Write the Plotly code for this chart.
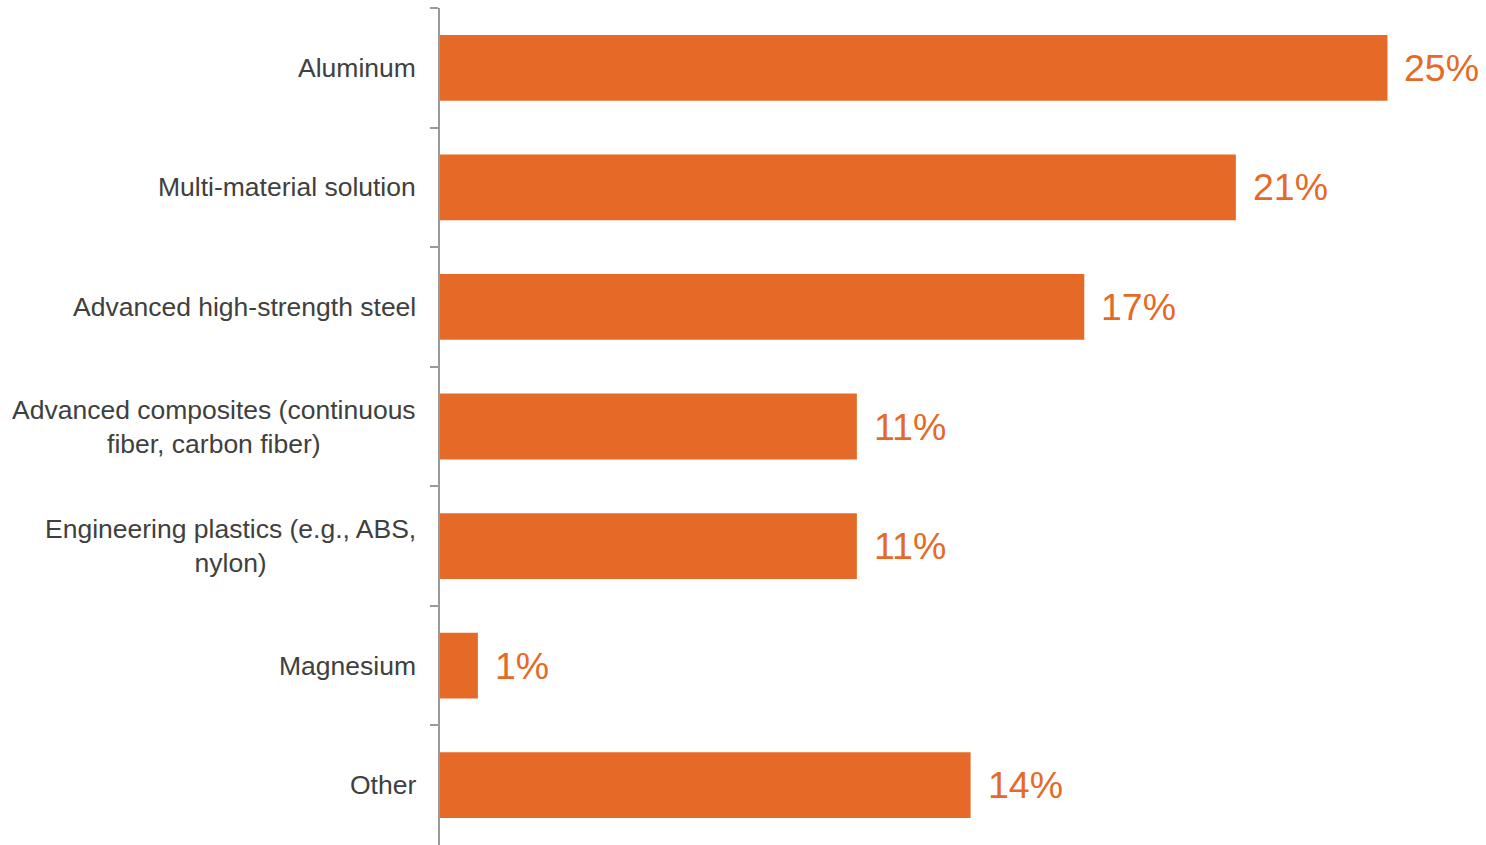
import plotly.graph_objects as go

materials = [
    "Aluminum",
    "Multi-material solution",
    "Advanced high-strength steel",
    "Advanced composites (continuous<br>fiber, carbon fiber)",
    "Engineering plastics (e.g., ABS,<br>nylon)",
    "Magnesium",
    "Other",
]
shares = [25, 21, 17, 11, 11, 1, 14]
share_labels = ["25%", "21%", "17%", "11%", "11%", "1%", "14%"]

bar_color = "#E66A27"
text_color = "#404040"
axis_color = "#9A9A9A"
font_family = "Liberation Sans, Arial, sans-serif"

fig = go.Figure(
    go.Bar(
        x=shares,
        y=materials,
        orientation="h",
        marker=dict(color=bar_color, line=dict(width=0)),
        hoverinfo="skip",
    )
)

# value labels to the right of each bar
for name, val, lab in zip(materials, shares, share_labels):
    fig.add_annotation(
        x=val, y=name, text=lab, showarrow=False,
        xanchor="left", yanchor="middle", xshift=15,
        font=dict(family=font_family, size=37.5, color=bar_color),
    )

# category labels, centred line-by-line, right-aligned against the axis
for name in materials:
    fig.add_annotation(
        xref="paper", x=0, y=name, text=name, showarrow=False,
        xanchor="right", yanchor="middle", align="center", xshift=-22,
        font=dict(family=font_family, size=26.5, color=text_color),
    )

fig.update_layout(
    width=1486,
    height=845,
    margin=dict(l=440, r=0, t=8, b=0),
    paper_bgcolor="white",
    plot_bgcolor="white",
    bargap=0.45,
    showlegend=False,
    font=dict(family=font_family, size=26.5, color=text_color),
    xaxis=dict(range=[0, 27.6], visible=False, fixedrange=True),
    yaxis=dict(
        autorange="reversed",
        type="category",
        showline=True,
        linecolor=axis_color,
        linewidth=2,
        ticks="outside",
        tickson="boundaries",
        ticklen=8,
        tickwidth=2,
        tickcolor=axis_color,
        showticklabels=False,
        showgrid=False,
        zeroline=False,
    ),
)

fig.write_html("out.html")
